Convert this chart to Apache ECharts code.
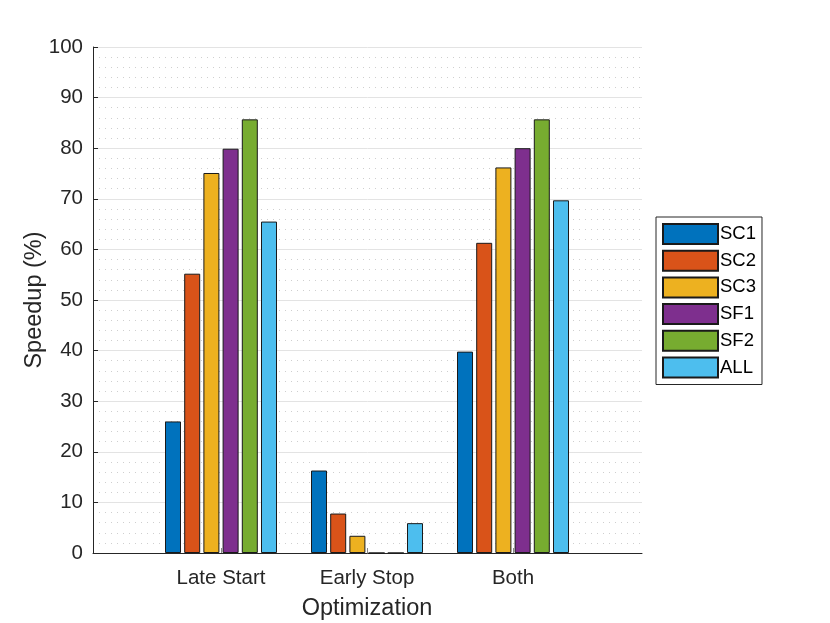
<!DOCTYPE html>
<html>
<head>
<meta charset="utf-8">
<script src="https://cdn.jsdelivr.net/npm/echarts@6/dist/echarts.min.js"></script>
<style>
  html, body { margin: 0; padding: 0; background: #fff; }
  #chart { width: 830px; height: 623px; }
</style>
</head>
<body>
<div id="chart"></div>
<script>
// categories and series (Speedup %)
const categories = ["Late Start", "Early Stop", "Both"];
const seriesNames = ["SC1", "SC2", "SC3", "SF1", "SF2", "ALL"];
const sc1 = [26.0, 16.3, 39.8];
const sc2 = [55.2, 7.8, 61.3];
const sc3 = [75.1, 3.4, 76.2];
const sf1 = [79.9, 0, 80.0];
const sf2 = [85.7, 0, 85.7];
const all = [65.5, 5.9, 69.7];
const colors = ["#0072BD", "#D95319", "#EDB120", "#7E2F8E", "#77AC30", "#4DBEEE"];

const chart = echarts.init(document.getElementById("chart"));
const font = "Liberation Sans, Arial, sans-serif";
const ink = "#262626";

const values = [sc1, sc2, sc3, sf1, sf2, all];

const options = {
  animation: false,
  textStyle: { fontFamily: font },
  grid: [
    // frame: axes + grid lines
    { left: 93, right: 188, top: 47, bottom: 70, outerBoundsMode: "none" },
    // bars
    { left: 148, right: 244, top: 47, bottom: 70, outerBoundsMode: "none" },
  ],
  legend: {
    orient: "vertical",
    left: 656,
    top: 217,
    padding: [6, 6, 6, 6],
    icon: "rect",
    itemWidth: 55,
    itemHeight: 20,
    itemGap: 4.7,
    borderColor: ink,
    borderWidth: 1,
    borderRadius: 0,
    backgroundColor: "#fff",
    textStyle: { fontSize: 18.5, color: "#000", fontFamily: font, lineHeight: 20, padding: [0, 0, 0, -3] },
    data: seriesNames,
  },
  xAxis: [
    {
      type: "value",
      gridIndex: 0,
      min: 0,
      max: 1,
      axisLine: { show: true, onZero: false, lineStyle: { color: ink, width: 1 } },
      axisTick: { show: false },
      axisLabel: { show: false },
      splitLine: { show: false },
    },
    {
      type: "category",
      gridIndex: 1,
      data: categories,
      axisLine: { show: false },
      axisTick: { show: true, inside: true, alignWithLabel: true, length: 5, lineStyle: { color: "#888" } },
      axisLabel: { fontSize: 20.5, color: ink, margin: 15, fontFamily: font },
      name: "Optimization",
      nameLocation: "middle",
      nameGap: 44,
      nameMoveOverlap: false,
      nameTextStyle: { fontSize: 23.5, color: ink, fontFamily: font },
    },
  ],
  yAxis: [
    {
      type: "value",
      gridIndex: 0,
      min: 0,
      max: 100,
      interval: 10,
      axisLine: { show: true, lineStyle: { color: ink, width: 1 } },
      axisTick: { show: true, inside: true, length: 5, lineStyle: { color: ink } },
      axisLabel: { fontSize: 20.5, color: ink, margin: 10, fontFamily: font },
      splitLine: { show: true, lineStyle: { color: "#e3e3e3", width: 1 } },
      minorTick: { show: false, splitNumber: 5 },
      minorSplitLine: { show: true, lineStyle: { color: "#cfcfcf", width: 1, type: [1, 5] } },
      name: "Speedup (%)",
      nameLocation: "middle",
      nameGap: 46,
      nameMoveOverlap: false,
      nameTextStyle: { fontSize: 23.5, color: ink, fontFamily: font },
    },
    {
      type: "value",
      gridIndex: 1,
      min: 0,
      max: 100,
      show: false,
      splitLine: { show: false },
    },
  ],
  series: seriesNames.map((name, i) => ({
    name: name,
    type: "bar",
    xAxisIndex: 1,
    yAxisIndex: 1,
    barWidth: 16,
    barGap: "20%",
    data: values[i],
    itemStyle: { color: colors[i], borderColor: "#1a1a1a", borderWidth: 1 },
  })),
};

chart.setOption(options);
</script>
</body>
</html>
